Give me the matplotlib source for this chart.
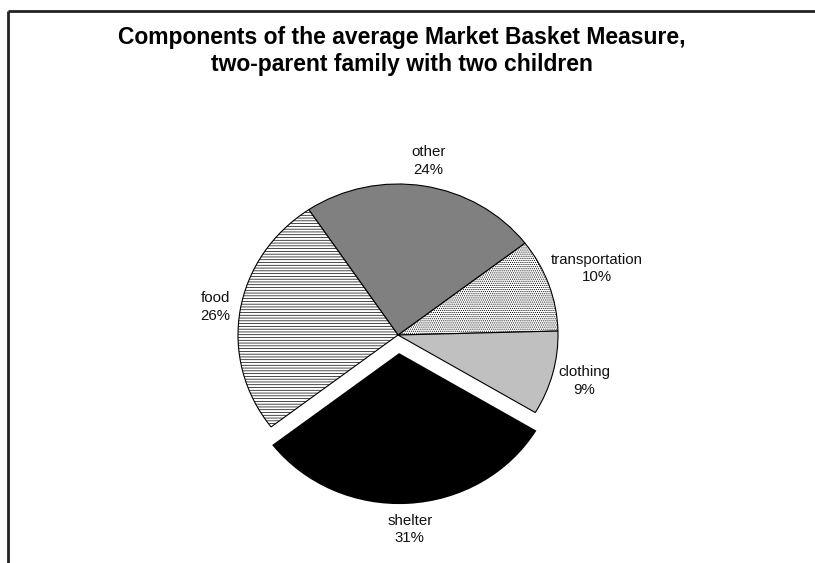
import matplotlib
matplotlib.use("Agg")
import matplotlib.pyplot as plt
import numpy as np
from matplotlib.lines import Line2D

plt.rcParams['font.family'] = ['Liberation Sans', 'DejaVu Sans']
plt.rcParams['hatch.linewidth'] = 0.5

# Data (counter-clockwise order, starting just above 3 o'clock)
categories = ['transportation', 'other', 'food', 'shelter', 'clothing']
shares = [10, 24, 26, 31, 9]
explode = [0, 0, 0, 0.12, 0]
title = "Components of the average Market Basket Measure,\ntwo-parent family with two children"

colors = ['white', '#808080', 'white', 'black', '#c0c0c0']
hatches = ['........', None, '------', None, None]
label_dist = [1.32, 1.17, 1.155, 1.17, 1.205]

W, H = 815, 563
fig = plt.figure(figsize=(W / 100, H / 100), dpi=100)
ax = fig.add_axes([0, 0, 1, 1])

wedges, _ = ax.pie(shares, explode=explode, startangle=1.5, counterclock=True,
                   colors=colors, radius=1.0,
                   wedgeprops=dict(edgecolor='black', linewidth=0.8))
for w, h, c in zip(wedges, hatches, colors):
    if h:
        w.set_hatch(h)
    if c == 'black':
        w.set_linewidth(0)

for w, cat, val, d in zip(wedges, categories, shares, label_dist):
    mid = np.deg2rad((w.theta1 + w.theta2) / 2)
    cx, cy = w.center
    ax.text(cx + d * np.cos(mid), cy + d * np.sin(mid), f"{cat}\n{val}%",
            ha='center', va='center', fontsize=10.8, linespacing=1.35, color='#111111')

# pixel geometry: center (398,335), rx=160, ry=151
cxp, cyp, rx, ry = 398, 335, 160, 151
ax.set_aspect('auto')
ax.set_xlim(-cxp / rx, (W - cxp) / rx)
ax.set_ylim(-(H - cyp) / ry, cyp / ry)
ax.axis('off')

fig.text(402 / W, 1 - 51 / H, title, ha='center', va='center', fontsize=16.5,
         fontweight='bold', linespacing=1.25)

# outer frame (top and left)
fig.add_artist(Line2D([7.5 / W, 1], [1 - 10.5 / H, 1 - 10.5 / H], color='#222222', lw=2.0,
                      transform=fig.transFigure, solid_capstyle='butt'))
fig.add_artist(Line2D([7.5 / W, 7.5 / W], [0, 1 - 10.5 / H], color='#222222', lw=2.0,
                      transform=fig.transFigure, solid_capstyle='butt'))

fig.savefig('out.png', dpi=100, facecolor='white')
